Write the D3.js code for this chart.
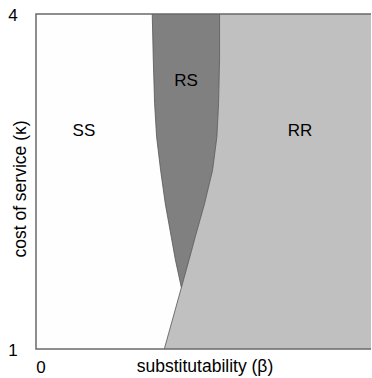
<!DOCTYPE html>
<html>
<head>
<meta charset="utf-8">
<script src="https://cdn.jsdelivr.net/npm/d3@7"></script>
<style>
body { margin:0; padding:0; background:#fff; overflow:hidden; }
svg { display:block; font-family:"Liberation Sans", Arial, sans-serif; }
</style>
</head>
<body>
<svg id="chart" width="372" height="378"></svg>
<script>
// region boundaries: [kappa, beta]
var ssRsBoundary = [[4,0.347],[3.6,0.350],[3.2,0.354],[2.9,0.360],[2.6,0.372],[2.3,0.386],[2.0,0.404],[1.8,0.416],[1.55,0.434]];
var rsRrBoundary = [[4,0.548],[3.6,0.548],[3.2,0.545],[2.9,0.540],[2.6,0.527],[2.3,0.503],[2.0,0.475],[1.8,0.457],[1.55,0.434]];
var ssRrBoundary = [[1.55,0.434],[1,0.383]];
var xTicks = [0, 1];
var yTicks = [1, 4];
var regionLabels = [["SS",0.143,2.96],["RS",0.448,3.41],["RR",0.788,2.96]];

var svg = d3.select("#chart");
var plotL = 36, plotR = 371, plotT = 14, plotB = 349;
var fs = 17;

var x = d3.scaleLinear().domain([0,1]).range([plotL,plotR]);
var y = d3.scaleLinear().domain([1,4]).range([plotB,plotT]);

var line = d3.line()
	.x(function(d) { return x(d[1]); })
	.y(function(d) { return y(d[0]); });

// SS background
svg.append("rect")
	.attr("x",plotL).attr("y",plotT)
	.attr("width",plotR-plotL).attr("height",plotB-plotT)
	.attr("fill","#fefefe");

// RR region: right of rs/rr boundary and ss/rr boundary
var rrPoly = rsRrBoundary.concat(ssRrBoundary.slice(1)).concat([[1,1],[4,1]]);
svg.append("path")
	.attr("d",line(rrPoly)+"Z")
	.attr("fill","#c0c0c0");

// RS region between the two curves
var rsPoly = ssRsBoundary.concat(rsRrBoundary.slice().reverse());
svg.append("path")
	.attr("d",line(rsPoly)+"Z")
	.attr("fill","#808080");

// boundary lines
[ssRsBoundary, rsRrBoundary, ssRrBoundary].forEach(function(b) {
	svg.append("path")
		.attr("d",line(b))
		.attr("fill","none")
		.attr("stroke","#555")
		.attr("stroke-width",0.8);
});

// frame lines (top, left, bottom)
svg.append("path")
	.attr("d","M"+plotR+","+plotT+"H"+plotL+"V"+plotB+"H"+plotR)
	.attr("fill","none")
	.attr("stroke","#6a6a6a")
	.attr("stroke-width",1.5);

// tick labels
svg.selectAll("text.ytick")
	.data(yTicks)
	.enter()
	.append("text")
	.attr("class","ytick")
	.attr("x",13)
	.attr("y",function(d) { return y(d)+7; })
	.attr("text-anchor","middle")
	.attr("font-size",fs)
	.text(function(d) { return d; });

svg.selectAll("text.xtick")
	.data(xTicks)
	.enter()
	.append("text")
	.attr("class","xtick")
	.attr("x",function(d) { return x(d)+5; })
	.attr("y",373)
	.attr("text-anchor","middle")
	.attr("font-size",fs)
	.text(function(d) { return d; });

svg.append("text")
	.attr("x",205)
	.attr("y",372)
	.attr("text-anchor","middle")
	.attr("font-size",17.5)
	.text("substitutability (\u03b2)");

svg.append("text")
	.attr("transform","translate(26,189) rotate(-90)")
	.attr("text-anchor","middle")
	.attr("font-size",17.5)
	.text("cost of service (\u03ba)");

svg.selectAll("text.region")
	.data(regionLabels)
	.enter()
	.append("text")
	.attr("class","region")
	.attr("x",function(d) { return x(d[1]); })
	.attr("y",function(d) { return y(d[2])+6; })
	.attr("text-anchor","middle")
	.attr("font-size",fs)
	.text(function(d) { return d[0]; });
</script>
</body>
</html>
